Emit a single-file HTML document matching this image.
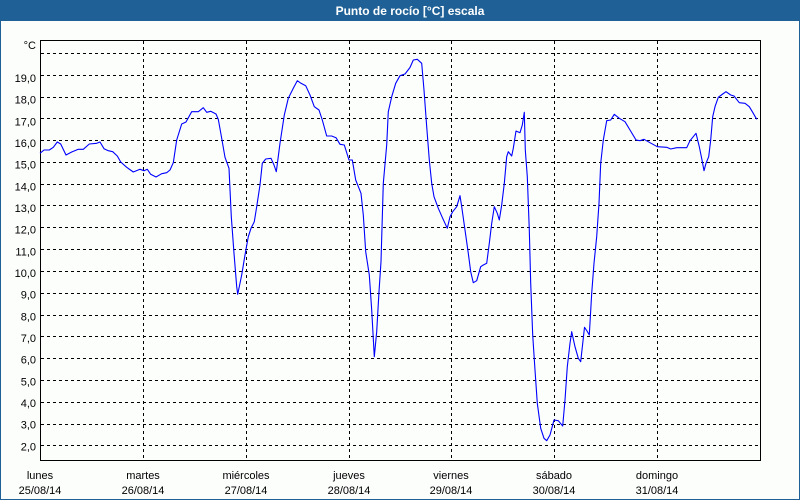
<!DOCTYPE html>
<html>
<head>
<meta charset="utf-8">
<style>
html,body{margin:0;padding:0;background:#fcfefc;}
svg{display:block;}
text{font-family:"Liberation Sans",Arial,sans-serif;}
</style>
</head>
<body>
<svg width="800" height="500" viewBox="0 0 800 500" xmlns="http://www.w3.org/2000/svg">
  <!-- panel -->
  <rect x="0" y="0" width="800" height="500" fill="#fcfefc"/>
  <rect x="0" y="0" width="800" height="21" fill="#1f6197"/>
  <rect x="0" y="0" width="1" height="500" fill="#1f6197"/>
  <rect x="799" y="0" width="1" height="500" fill="#1f6197"/>
  <rect x="0" y="499" width="800" height="1" fill="#1f6197"/>
  <text x="410" y="15" fill="#ffffff" font-size="12" font-weight="bold" text-anchor="middle">Punto de rocío [°C] escala</text>

  <!-- horizontal grid -->
  <g stroke="#000" stroke-width="1" stroke-dasharray="3,3" shape-rendering="crispEdges">
    <line x1="41" y1="53.5" x2="760" y2="53.5"/>
    <line x1="41" y1="75.5" x2="760" y2="75.5"/>
    <line x1="41" y1="97.5" x2="760" y2="97.5"/>
    <line x1="41" y1="118.5" x2="760" y2="118.5"/>
    <line x1="41" y1="140.5" x2="760" y2="140.5"/>
    <line x1="41" y1="162.5" x2="760" y2="162.5"/>
    <line x1="41" y1="184.5" x2="760" y2="184.5"/>
    <line x1="41" y1="205.5" x2="760" y2="205.5"/>
    <line x1="41" y1="227.5" x2="760" y2="227.5"/>
    <line x1="41" y1="249.5" x2="760" y2="249.5"/>
    <line x1="41" y1="271.5" x2="760" y2="271.5"/>
    <line x1="41" y1="293.5" x2="760" y2="293.5"/>
    <line x1="41" y1="315.5" x2="760" y2="315.5"/>
    <line x1="41" y1="336.5" x2="760" y2="336.5"/>
    <line x1="41" y1="358.5" x2="760" y2="358.5"/>
    <line x1="41" y1="380.5" x2="760" y2="380.5"/>
    <line x1="41" y1="402.5" x2="760" y2="402.5"/>
    <line x1="41" y1="424.5" x2="760" y2="424.5"/>
    <line x1="41" y1="445.5" x2="760" y2="445.5"/>
  </g>
  <!-- vertical grid -->
  <g stroke="#000" stroke-width="1" stroke-dasharray="3,3" shape-rendering="crispEdges">
    <line x1="143.5" y1="41" x2="143.5" y2="460"/>
    <line x1="246.5" y1="41" x2="246.5" y2="460"/>
    <line x1="349.5" y1="41" x2="349.5" y2="460"/>
    <line x1="451.5" y1="41" x2="451.5" y2="460"/>
    <line x1="554.5" y1="41" x2="554.5" y2="460"/>
    <line x1="657.5" y1="41" x2="657.5" y2="460"/>
  </g>
  <!-- plot frame -->
  <rect x="40.5" y="40.5" width="720" height="420" fill="none" stroke="#000" stroke-width="1" shape-rendering="crispEdges"/>

  <!-- y labels -->
  <g font-size="11" fill="#000" text-anchor="end">
    <text x="36" y="49">°C</text>
    <text x="36" y="82">19,0</text>
    <text x="36" y="103.7">18,0</text>
    <text x="36" y="125.3">17,0</text>
    <text x="36" y="147">16,0</text>
    <text x="36" y="168.7">15,0</text>
    <text x="36" y="190.4">14,0</text>
    <text x="36" y="212">13,0</text>
    <text x="36" y="233.7">12,0</text>
    <text x="36" y="255.4">11,0</text>
    <text x="36" y="277">10,0</text>
    <text x="36" y="298.7">9,0</text>
    <text x="36" y="320.4">8,0</text>
    <text x="36" y="342">7,0</text>
    <text x="36" y="363.7">6,0</text>
    <text x="36" y="385.4">5,0</text>
    <text x="36" y="407">4,0</text>
    <text x="36" y="428.7">3,0</text>
    <text x="36" y="450.4">2,0</text>
  </g>

  <!-- x labels -->
  <g font-size="11" fill="#000" text-anchor="middle">
    <text x="40" y="479">lunes</text><text x="40" y="494">25/08/14</text>
    <text x="143" y="479">martes</text><text x="143" y="494">26/08/14</text>
    <text x="246" y="479">miércoles</text><text x="246" y="494">27/08/14</text>
    <text x="349" y="479">jueves</text><text x="349" y="494">28/08/14</text>
    <text x="451" y="479">viernes</text><text x="451" y="494">29/08/14</text>
    <text x="554" y="479">sábado</text><text x="554" y="494">30/08/14</text>
    <text x="657" y="479">domingo</text><text x="657" y="494">31/08/14</text>
  </g>

  <!-- series -->
  <polyline fill="none" stroke="#0000ff" stroke-width="1.1" stroke-linejoin="round" points="
40,153.3 44,150 49.3,150 53.3,147.3 57.3,142 60.7,144 66,155 71.7,152 78.3,149.3 83.3,149.3
89.3,144 96.7,143.3 100,142 104,148.7 108.3,150.7 112.7,151.7 117.3,156 120.7,162 126.7,167.3
133.3,172 140,169.3 144,170.7 147.3,169.3 150.7,174.3 156,177 161.7,173.7 166.7,172.7 170,170
173.3,162.7 176.7,140 181.7,124 186,122 191.7,111.7 198.3,111.7 203.3,107.7 206.7,112.3
210.7,111.3 216,114 218.3,119.3 221.7,138.3 225,157.3 229,168.3 231.3,216.7 234,253.3
236.7,286.7 237.7,294.3 241.7,275 245,255 248.3,236.7 251,228.3 254.3,221.7 256.7,206.7
260,185 262.3,163.3 265.7,159 271,158.3 274,165 276.3,171.7 277.7,161 280,143.3 284.3,115
288.3,98.3 293.3,88.3 297.3,80.7 301,83.3 305.7,85.7 310,95 314.3,106.7 319,110 322.3,120
326.7,136 331.7,136 336,137.7 340,144.3 344.3,145 349,160 352.3,160 355.7,180 361,193.3
363.3,215 365.7,251.7 369.3,275 371.7,310 374.3,356.7 376.7,331.7 379,291.7 381,261.7
383.3,183.3 386.7,145 388.3,111.7 391.7,96.7 395.7,83.3 400,75.7 405,74 410,67.5 413.3,60
417.3,59.3 421.7,63.3 424,90 426.7,126.7 429.3,160 431.7,183.3 434,196.7 438.3,208.3
442.7,218.3 447.3,228.3 450,216.7 452.7,211.7 456.7,206.7 460,195.7 461.7,206.7 465,230
468.3,253.3 470.7,271.7 473.3,282.7 476.7,280.7 480.7,266.7 483.3,265 486.7,263.3 489.3,243.3
491.7,223.3 494.3,206.7 497.3,213.3 499.3,220 501.7,205 504.3,183.3 506.7,156.7 508.3,151.7
511.7,156 513.3,148.3 516,131 520,132.7 522.3,125 524.3,112.3 525.3,150 527.3,176.7 529.3,230
530.7,283.3 532.7,335 535,370 537.3,403.3 540.7,428.3 544,438.3 546.7,440.7 550,435 554,420
558.3,420.7 562.7,426 565,400 567.3,366.7 570,343.3 571.7,331.7 575,346.7 578.3,358.3
580.7,361.7 584.5,327.3 587,331 589.3,335 591.7,293.3 594,263.3 596.7,236.7 599,203.3
600.7,163.3 603.3,140 606.7,120.7 610.7,120 614.3,114.3 619.3,118.3 625,121.7 630,130 636,140
640,140.7 644,139.3 650,142.7 657.3,146.7 666.7,147.3 670.7,149 676.7,147.7 686.7,147.7
690,140.7 696,133.3 699.3,146.7 702,160 704,170.7 706,163.3 708.7,156.7 710.7,140 712.7,116.7
715,106.7 718.3,97.3 722.7,94 726,91.7 730.7,95 734,96 739.3,102.7 745,103.3 749.3,106.7
752.7,112.3 756.7,119.3"/>
</svg>
</body>
</html>
